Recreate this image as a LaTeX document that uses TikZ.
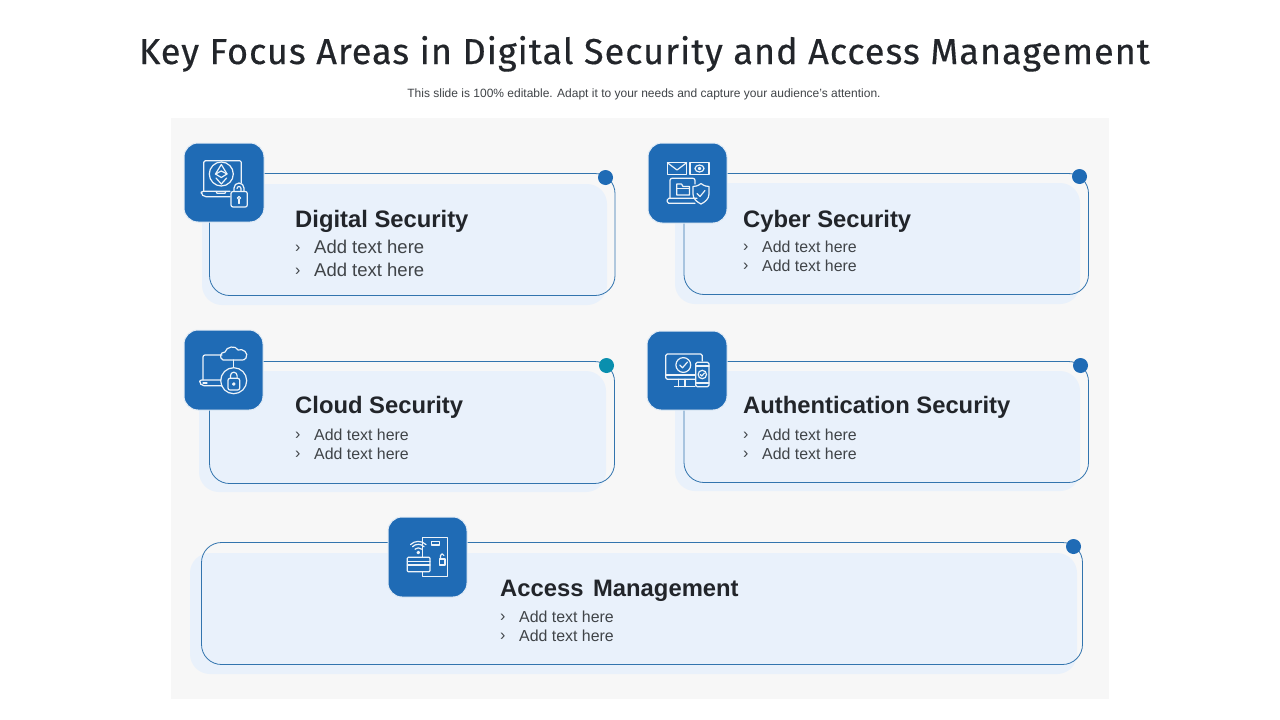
\documentclass[tikz,border=0pt]{standalone}
\usepackage{fontspec}
\setmainfont{Liberation Sans}
\newfontfamily\titlefont[LetterSpace=2.85,FakeBold=0.4]{Fira Sans}
\definecolor{panelbg}{HTML}{F7F7F7}
\definecolor{cardfill}{HTML}{E9F1FB}
\definecolor{cardline}{HTML}{3274AE}
\definecolor{iconblue}{HTML}{1F6BB5}
\definecolor{tealdot}{HTML}{0A8FAE}
\definecolor{headtxt}{HTML}{22252A}
\definecolor{bodytxt}{HTML}{404448}
\tikzset{
  x=1pt,y=-1pt,
  cardbg/.style={fill=cardfill,draw=none,rounded corners=20pt},
  cardout/.style={draw=cardline,line width=0.8pt,rounded corners=20pt},
  iconbox/.style={fill=iconblue,draw=iconblue!12,line width=1pt,rounded corners=14pt},
  dotnode/.style={circle,fill=iconblue,draw=none,minimum size=15pt,inner sep=0pt},
  ic/.style={draw=white!92!iconblue,line width=1.2pt,line join=round,line cap=round,fill=none},
  heading/.style={anchor=base west,inner sep=0pt,font=\fontsize{23.8}{28}\selectfont\bfseries,text=headtxt},
  bodyline/.style={anchor=base west,inner sep=0pt,font=\fontsize{15.9}{20}\selectfont,text=bodytxt},
  bodybig/.style={anchor=base west,inner sep=0pt,font=\fontsize{18.5}{22}\selectfont,text=bodytxt},
  bulletmark/.style={anchor=base west,inner sep=0pt,font=\fontsize{16}{20}\selectfont,text=bodytxt},
}
\begin{document}
\begin{tikzpicture}
\useasboundingbox (0,0) rectangle (1280,720);
\fill[white] (0,0) rectangle (1280,720);
\node[anchor=base,inner sep=0pt,text=headtxt,font=\fontsize{36}{40}\selectfont\titlefont] (title) at (644.5,64) {Key Focus Areas in Digital Security and Access Management};
\node[anchor=base,inner sep=0pt,text=bodytxt,font=\fontsize{12}{14}\selectfont] (subtitle) at (644,97) {This slide is 100\% editable. Adapt it to your needs and capture your audience's attention.};
\fill[panelbg] (171,118) rectangle (1109,699);

% cards
\fill[cardbg] (202,184) rectangle (607,305);
\draw[cardout] (209.5,173.5) rectangle (615,295.5);
\fill[cardbg] (675,183) rectangle (1080,304);
\draw[cardout] (684,173.5) rectangle (1088.5,294.5);
\fill[cardbg] (199,371) rectangle (606,492);
\draw[cardout] (209.5,361.5) rectangle (614.5,483.5);
\fill[cardbg] (675,371) rectangle (1080,491);
\draw[cardout] (684,361.5) rectangle (1088.5,482.5);
\fill[cardbg] (190,553) rectangle (1077,674);
\draw[cardout] (201.5,542.5) rectangle (1082.5,664.5);

\node[dotnode] (dot1) at (605.5,177.5) {};
\node[dotnode] (dot2) at (1079.5,176.5) {};
\node[dotnode,fill=tealdot] (dot3) at (606.5,365.5) {};
\node[dotnode] (dot4) at (1080.5,365.5) {};
\node[dotnode] (dot5) at (1073.5,546.5) {};

% icon boxes
\path[iconbox] (184,143) rectangle (264,222);
\path[iconbox] (648,143) rectangle (727,223);
\path[iconbox] (184,330) rectangle (263,410);
\path[iconbox] (647,331) rectangle (727,410);
\path[iconbox] (388,517) rectangle (467,597);

% icon 1: laptop with ethereum and lock
\draw[ic,rounded corners=1.5pt] (203.7,191) -- (203.7,160.7) -- (241.3,160.7) -- (241.3,183);
\draw[ic,rounded corners=2pt] (230,191.3) -- (201.3,191.3) -- (201.3,194) -- (204,196.7) -- (230,196.7);
\draw[ic] (216,191.3) -- (217,193.3) -- (225,193.3) -- (226,191.3);
\draw[ic] (221.3,174) circle (12);
\draw[ic] (221.3,164.5) -- (215.5,174) -- (221.3,177.5) -- (227,174) -- cycle;
\draw[ic] (215.5,174) -- (221.3,171) -- (227,174);
\draw[ic] (216,178) -- (221.3,184) -- (226.6,178);
\draw[ic,rounded corners=2pt] (231,191.5) rectangle (247.3,207);
\draw[ic] (234,191.5) -- (234,188) arc (180:360:5) -- (244,191.5);
\draw[ic] (237,188.5) arc (180:360:2) -- (241,191.5);
\draw[ic] (239,198) circle (1.6);
\draw[ic] (239,199.6) -- (239,203.5);

% icon 2: mail, money, laptop and shield
\draw[ic] (667.3,162.7) rectangle (686.7,174.3);
\draw[ic] (667.3,162.7) -- (677,170) -- (686.7,162.7);
\draw[ic] (690,162.7) rectangle (709,174.3);
\draw[ic] (699.5,168.5) ellipse (4.5 and 3.5);
\draw[ic] (699.5,168.5) circle (1.2);
\draw[ic,rounded corners=2pt] (670,198.3) -- (670,178.3) -- (695,178.3) -- (695,184);
\draw[ic,rounded corners=1.5pt] (697,198.3) -- (667.3,198.3) -- (667.3,203.3) -- (695,203.3);
\draw[ic] (676.7,195) -- (676.7,184) -- (681.5,184) -- (683,186.5) -- (689.5,186.5) -- (689.5,195) -- cycle;
\draw[ic] (676.7,188.5) -- (689.5,188.5);
\draw[ic] (701,183.5) .. controls (698,186) and (695,186.5) .. (693,186.5) -- (693,194) .. controls (693,199) and (697,202) .. (701,204) .. controls (705,202) and (709,199) .. (709,194) -- (709,186.5) .. controls (707,186.5) and (704,186) .. (701,183.5) -- cycle;
\draw[ic] (697,193.5) -- (700,196.5) -- (705,190.5);

% icon 3: laptop, cloud and lock
\draw[ic,rounded corners=2pt] (203,380) -- (203,355) -- (222,355);
\draw[ic,rounded corners=2pt] (221,380) -- (199.7,380) -- (199.7,383) -- (202,385.7) -- (222,385.7);
\draw[ic] (203,383) -- (207,383);
\draw[ic] (223,360) .. controls (219,358) and (220,352) .. (225,352) .. controls (226,346.5) and (236,345) .. (238,350) .. controls (243,348) and (249,353) .. (246,358) .. controls (245,360) and (243,360) .. (242,360) -- cycle;
\draw[ic] (233.7,360) -- (233.7,367.5);
\draw[ic] (233.7,380.7) circle (13);
\draw[ic,rounded corners=2pt] (228,378.3) rectangle (239.7,390);
\draw[ic] (230.5,378.3) -- (230.5,375.5) arc (180:360:3.3) -- (237.1,378.3);
\draw[ic] (233.8,384) circle (1.2);

% icon 4: monitor and phone with checks
\draw[ic,rounded corners=1.5pt] (695,379.3) -- (665.7,379.3) -- (665.7,354) -- (702.3,354) -- (702.3,361);
\draw[ic] (665.7,375) -- (695,375);
\draw[ic] (678.5,379.3) -- (678.5,386.7);
\draw[ic] (685,379.3) -- (685,386.7);
\draw[ic] (674.5,386.7) -- (695,386.7);
\draw[ic] (683.3,365) circle (7.4);
\draw[ic] (679.8,365) -- (682.5,367.8) -- (687.5,362);
\draw[ic,rounded corners=1.5pt] (695.7,362.3) rectangle (709,386.7);
\draw[ic] (695.7,366) -- (709,366);
\draw[ic] (695.7,383) -- (709,383);
\draw[ic] (702.3,374.5) circle (4.2);
\draw[ic] (700.3,374.5) -- (701.8,376) -- (704.5,373);

% icon 5: door, card and wifi
\draw[ic] (422.3,557) -- (422.3,537.7) -- (447.3,537.7) -- (447.3,576.7) -- (422.3,576.7) -- (422.3,572);
\draw[ic] (431.7,541.7) rectangle (439.3,545);
\draw[ic] (439.3,559) rectangle (445,565);
\draw[ic] (440.5,559) -- (440.5,555.5) arc (180:360:1.7);
\draw[ic,rounded corners=1pt] (407.3,557.3) rectangle (430,571.7);
\draw[ic] (407.3,561.5) -- (430,561.5);
\draw[ic] (407.3,565) -- (430,565);
\draw[ic] (418.3,552.5) circle (1.2);
\draw[ic] (415,549.2) arc (225:315:4.7);
\draw[ic] (412.5,546.7) arc (225:315:8.2);
\draw[ic] (410.5,544.6) arc (225:315:11);

% card 1 text
\node[heading] (h1) at (295,227) {Digital Security};
\node[bulletmark] (b1a) at (295,252) {›};
\node[bodybig] (t1a) at (314,253) {Add text here};
\node[bulletmark] (b1b) at (295,275) {›};
\node[bodybig] (t1b) at (314,276) {Add text here};
% card 2 text
\node[heading] (h2) at (743,227) {Cyber Security};
\node[bulletmark] (b2a) at (743,251.5) {›};
\node[bodyline] (t2a) at (762,252) {Add text here};
\node[bulletmark] (b2b) at (743,270.5) {›};
\node[bodyline] (t2b) at (762,271) {Add text here};
% card 3 text
\node[heading] (h3) at (295,413) {Cloud Security};
\node[bulletmark] (b3a) at (295,439.5) {›};
\node[bodyline] (t3a) at (314,440) {Add text here};
\node[bulletmark] (b3b) at (295,458.5) {›};
\node[bodyline] (t3b) at (314,459) {Add text here};
% card 4 text
\node[heading] (h4) at (743,413) {Authentication Security};
\node[bulletmark] (b4a) at (743,439.5) {›};
\node[bodyline] (t4a) at (762,440) {Add text here};
\node[bulletmark] (b4b) at (743,458.5) {›};
\node[bodyline] (t4b) at (762,459) {Add text here};
% card 5 text
\node[heading] (h5) at (500,596) {Access\hspace{3pt} Management};
\node[bulletmark] (b5a) at (500,621.5) {›};
\node[bodyline] (t5a) at (519,622) {Add text here};
\node[bulletmark] (b5b) at (500,640.5) {›};
\node[bodyline] (t5b) at (519,641) {Add text here};
\end{tikzpicture}
\end{document}
